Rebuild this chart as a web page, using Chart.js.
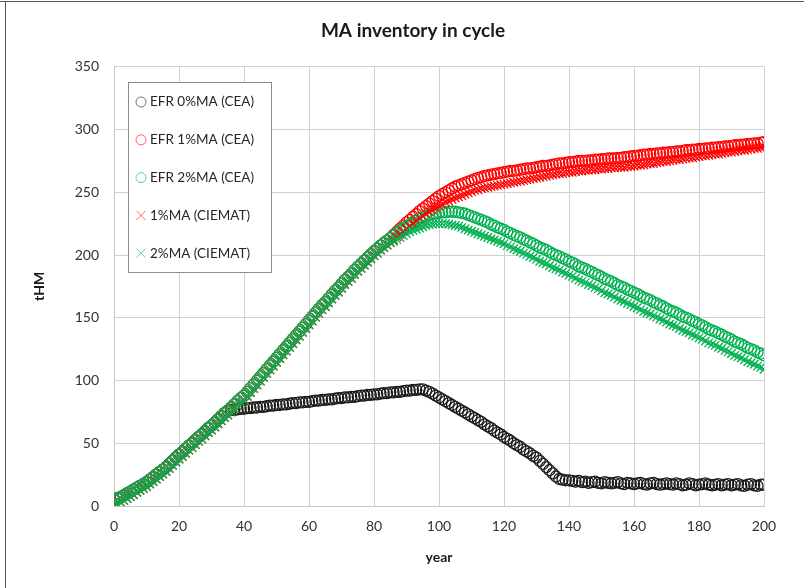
<!DOCTYPE html>
<html>
<head>
<meta charset="utf-8">
<script src="https://cdn.jsdelivr.net/npm/chart.js@4.4.0/dist/chart.umd.min.js"></script>
<style>
  body { margin: 0; background: #fff; }
  #wrap { position: relative; width: 804px; height: 588px; }
</style>
</head>
<body>
<div id="wrap"><canvas id="myChart" width="804" height="588"></canvas></div>
<script>
// years 0..200, one marker per year
const years = Array.from({ length: 201 }, (_, i) => i);
const xTicks = [0, 20, 40, 60, 80, 100, 120, 140, 160, 180, 200];
const yTicks = [0, 50, 100, 150, 200, 250, 300, 350];
const seriesNames = ['EFR 0%MA (CEA)', 'EFR 1%MA (CEA)', 'EFR 2%MA (CEA)', '1%MA (CIEMAT)', '2%MA (CIEMAT)'];

// common ramp-up of the CEA runs, years 0..85
const riseCEA = [
  5, 6, 7, 8.5, 10, 11.5, 13, 14.5, 16, 17.5,
  19, 21, 23, 25, 27, 29, 31, 33.5, 36, 38.5,
  41, 43, 45.5, 48, 50, 52.5, 55, 57, 59.5, 62,
  64, 66.5, 69, 71.5, 74, 76, 78.5, 81, 83.5, 86,
  88, 91, 94, 97, 100, 103, 106, 109, 112, 115,
  118, 121, 124, 127, 130, 133, 136, 139, 142, 145,
  148, 151, 154, 157, 160, 162.5, 165.5, 168.5, 171.5, 174,
  177, 180, 182.5, 185, 188, 190.5, 193, 195.5, 198, 200.5,
  203, 205, 207.5, 209.5, 211.5, 213.5
];
// common ramp-up of the CIEMAT runs, years 0..85
const riseCIEMAT = [
  0, 1.5, 3, 4.5, 6, 7.5, 9, 11, 12.5, 14,
  15.5, 17.5, 19.5, 21.5, 23.5, 25.5, 27.5, 30, 32.5, 35,
  37.5, 39.5, 42, 44.5, 46.5, 49, 51.5, 53.5, 56, 58.5,
  60.5, 63, 65.5, 68, 70.5, 72.5, 75, 77.5, 80, 82.5,
  84.5, 87.5, 90.5, 93.5, 96.5, 99.5, 102.5, 105.5, 108.5, 111.5,
  114.5, 117.5, 120.5, 123.5, 126.5, 129.5, 132.5, 135.5, 138.5, 141.5,
  144.5, 147.5, 150.5, 153.5, 156.5, 159, 162, 165, 168, 170.5,
  173.5, 176.5, 179, 181.5, 184.5, 187, 189.5, 192, 194.5, 197,
  199.5, 201.5, 204, 206, 208, 210
];
// EFR 0%MA, years 36..200
const efr0Tail = [
  76.5, 76.5, 77, 77.5, 77.5, 78, 78, 78.5, 78.5, 79,
  79, 79.5, 80, 80, 80.5, 80.5, 81, 81, 81.5, 82,
  82, 82.5, 82.5, 83, 83, 83.5, 84, 84, 84.5, 84.5,
  85, 85, 85.5, 86, 86, 86.5, 86.5, 87, 87, 87.5,
  88, 88, 88.5, 88.5, 89, 89, 89.5, 90, 90, 90.5,
  90.5, 91, 91, 91.5, 92, 92, 92.5, 92.5, 93, 93,
  92, 91, 89.5, 88, 86.5, 85, 83.5, 82, 80.5, 79,
  77.5, 76, 74.5, 73, 71.5, 70, 68.5, 67, 65, 63.5,
  62, 60, 58.5, 57, 55, 53.5, 52, 50, 48.5, 47,
  45, 43.5, 42, 40, 38.5, 36, 33.5, 31, 28.5, 26,
  23.5, 21.5, 21, 20.5, 20.5,
  20, 19.5, 20, 19, 19.5, 18.5, 19, 19.5, 18.5, 18,
  19, 18.5, 18, 18.5, 19, 18, 17.5, 18.5, 18, 17.5,
  18, 18.5, 17.5, 17, 18, 18.5, 17.5, 17, 17.5, 18,
  17.5, 17, 18, 17.5, 16.5, 17, 18, 17.5, 16.5, 17,
  17.5, 18, 17, 16.5, 17, 17.5, 16.5, 17, 17.5, 16.5,
  17, 17.5, 16.5, 16, 17, 17.5, 16.5, 16, 17, 17
];
// EFR 1%MA, years 86..200
const efr1Tail = [
  216, 218.5, 221, 223.5, 226, 228, 230.5, 232.5, 235, 237,
  239, 241, 243, 245, 247, 248.5, 250, 251.5, 253, 254.5,
  255.5, 256.5, 257.5, 258.5, 259.5, 260.5, 261.5, 262, 263, 263.5,
  264, 264.5, 265, 265.5, 266,
  266.5, 267, 267, 267.5, 268, 268.5, 269, 269, 269.5, 270,
  270.5, 271, 271, 271.5, 272, 272.5, 273, 273, 273.5, 274,
  274, 274.5, 275, 275, 275, 275.5, 275.5, 276, 276, 276.5,
  276.5, 277, 277, 277, 277.5, 277.5, 278, 278, 278.5, 279,
  279, 279.5, 280, 280, 280.5, 280.5, 281, 281, 281.5, 281.5,
  282, 282, 282.5, 282.5, 283, 283.5, 283.5, 284, 284, 284.5,
  284.5, 285, 285, 285.5, 285.5, 286, 286, 286.5, 286.5, 287,
  287.5, 287.5, 288, 288, 288.5, 288.5, 289, 289, 289.5, 290
];
// EFR 2%MA, years 86..200
const efr2Tail = [
  215.5, 217.5, 219.5, 221, 223, 224.5, 226, 227.5, 229, 230,
  231, 232, 232.5, 233, 233.5, 234, 234, 234.5, 234.5, 234.5,
  234, 233.5, 233, 232, 231, 230, 229, 228, 227, 226,
  224.5, 223.5, 222, 221, 220,
  218.5, 217.5, 216, 215, 214, 212.5, 211.5, 210, 209, 207.5,
  206, 205, 204, 202.5, 201, 200, 199, 197.5, 196.5, 195,
  194, 192.5, 191, 190, 189, 187.5, 186.5, 185, 184, 182.5,
  181, 180, 179, 177.5, 176, 175, 174, 172.5, 171.5, 170,
  169, 167.5, 166, 165, 164, 162.5, 161.5, 160, 159, 157.5,
  156, 155, 154, 152.5, 151, 150, 149, 147.5, 146.5, 145,
  144, 142.5, 141, 140, 139, 137.5, 136.5, 135, 134, 132.5,
  131, 130, 129, 127.5, 126, 125, 124, 122.5, 121.5, 120
];
// 1%MA CIEMAT, years 86..200
const ciemat1Tail = [
  212, 214.5, 216.5, 219, 221, 223, 225, 227, 229, 231,
  233, 234.5, 236, 237.5, 239, 240.5, 242, 243, 244.5, 245.5,
  246.5, 247.5, 248.5, 249.5, 250.5, 251.5, 252, 253, 253.5, 254,
  254.5, 255, 255.5, 256, 256.5,
  257, 257.5, 258, 258.5, 259, 259.5, 260, 260.5, 261, 261.5,
  262, 262.5, 263, 263.5, 264, 264.5, 265, 265, 265.5, 266,
  266, 266.5, 267, 267, 267.5, 267.5, 268, 268, 268.5, 268.5,
  269, 269, 269.5, 269.5, 270, 270, 270, 270.5, 270.5, 271,
  271.5, 271.5, 272, 272.5, 273, 273, 273.5, 274, 274.5, 274.5,
  275, 275.5, 276, 276, 276.5, 277, 277.5, 277.5, 278, 278.5,
  279, 279, 279.5, 280, 280.5, 280.5, 281, 281.5, 282, 282,
  282.5, 283, 283.5, 283.5, 284, 284.5, 285, 285, 285.5, 286
];
// 2%MA CIEMAT, years 86..200
const ciemat2Tail = [
  211, 212.5, 214, 215.5, 217, 218.5, 219.5, 220.5, 221.5, 222.5,
  223.5, 224, 224.5, 225, 225, 225, 225, 224.5, 224, 223.5,
  223, 222, 221, 220, 219, 218, 217, 216, 215, 214,
  213, 212, 211, 210, 209,
  207.5, 206.5, 205, 204, 203, 201.5, 200.5, 199, 198, 196.5,
  195, 194, 193, 191.5, 190, 189, 188, 186.5, 185.5, 184,
  183, 181.5, 180, 179, 178, 176.5, 175.5, 174, 173, 171.5,
  170, 169, 168, 166.5, 165, 164, 163, 161.5, 160.5, 159,
  158, 156.5, 155, 154, 153, 151.5, 150.5, 149, 148, 146.5,
  145, 144, 143, 141.5, 140, 139, 138, 136.5, 135.5, 134,
  133, 131.5, 130, 129, 128, 126.5, 125.5, 124, 123, 121.5,
  120, 119, 118, 116.5, 115, 114, 113, 111.5, 110.5, 109
];

const efr0 = riseCEA.slice(0, 36).concat(efr0Tail);
const efr1 = riseCEA.concat(efr1Tail);
const efr2 = riseCEA.concat(efr2Tail);
const ciemat1 = riseCIEMAT.concat(ciemat1Tail);
const ciemat2 = riseCIEMAT.concat(ciemat2Tail);

const toPoints = ys => ys.map((y, i) => ({ x: years[i], y: y }));

const RED = '#ff0000';
const GREEN = '#00b050';
const BLACK = '#1a1a1a';

function ds(name, ys, color, style, radius, order) {
  return {
    label: name,
    data: toPoints(ys),
    borderColor: color,
    backgroundColor: 'rgba(0,0,0,0)',
    pointStyle: style,
    pointRadius: radius,
    pointBorderWidth: 1.3,
    pointHoverRadius: radius,
    showLine: false,
    order: order
  };
}

// legend box drawn inside the plot area, top left + outer frame
const insideLegend = {
  id: 'insideLegend',
  afterLayout(chart) {
    // the title sits a bit right of centre in the original
    if (chart.titleBlock) {
      chart.titleBlock.left = 62;
      chart.titleBlock.right = 764;
    }
  },
  beforeDraw(chart) {
    const ctx = chart.ctx;
    ctx.save();
    ctx.fillStyle = '#fff';
    ctx.fillRect(0, 0, chart.width, chart.height);
    ctx.strokeStyle = '#555';
    ctx.lineWidth = 1;
    ctx.beginPath();
    ctx.moveTo(5.5, chart.height);
    ctx.lineTo(5.5, 1.5);
    ctx.lineTo(chart.width, 1.5);
    ctx.moveTo(0, 1.5);
    ctx.lineTo(5.5, 1.5);
    ctx.stroke();
    ctx.restore();
  },
  afterDraw(chart) {
    const ctx = chart.ctx;
    ctx.save();
    ctx.fillStyle = '#fff';
    ctx.fillRect(128, 82, 143, 190);
    ctx.strokeStyle = '#8c8c8c';
    ctx.lineWidth = 1;
    ctx.strokeRect(128.5, 82.5, 143, 190);
    chart.data.datasets.forEach((d, i) => {
      const y = 102 + i * 37.8;
      const x = 141;
      ctx.strokeStyle = d.borderColor;
      ctx.globalAlpha = 0.6;
      ctx.beginPath();
      if (d.pointStyle === 'circle') {
        ctx.arc(x, y, 5, 0, Math.PI * 2);
      } else {
        ctx.moveTo(x - 4.5, y - 4.5); ctx.lineTo(x + 4.5, y + 4.5);
        ctx.moveTo(x - 4.5, y + 4.5); ctx.lineTo(x + 4.5, y - 4.5);
      }
      ctx.stroke();
      ctx.globalAlpha = 1;
      ctx.fillStyle = '#262626';
      ctx.font = '13.5px Lato';
      ctx.textBaseline = 'middle';
      ctx.textAlign = 'left';
      ctx.fillText(d.label, 150, y);
    });
    ctx.restore();
  }
};

Chart.defaults.font.family = 'Lato';
Chart.defaults.color = '#333';

const ctx = document.getElementById('myChart');
new Chart(ctx, {
  type: 'scatter',
  data: {
    datasets: [
      ds(seriesNames[0], efr0, BLACK, 'circle', 5.5, 5),
      ds(seriesNames[1], efr1, RED, 'circle', 5.5, 4),
      ds(seriesNames[2], efr2, GREEN, 'circle', 5.5, 3),
      ds(seriesNames[3], ciemat1, RED, 'crossRot', 6, 2),
      ds(seriesNames[4], ciemat2, GREEN, 'crossRot', 6, 1)
    ]
  },
  options: {
    responsive: false,
    animation: false,
    events: [],
    layout: { padding: { left: 0, right: 40, top: 0, bottom: 0 } },
    plugins: {
      legend: { display: false },
      tooltip: { enabled: false },
      title: {
        display: true,
        text: 'MA inventory in cycle',
        color: '#1a1a1a',
        font: { size: 19, weight: 'bold', family: 'Lato' },
        padding: { top: 19, bottom: 25 }
      }
    },
    scales: {
      x: {
        type: 'linear',
        min: 0,
        max: 200,
        afterBuildTicks: s => { s.ticks = xTicks.map(v => ({ value: v })); },
        afterFit: s => { s.height = 82; },
        grid: { color: '#d0d0d0', drawTicks: false },
        border: { color: '#c8c8c8' },
        ticks: { padding: 12, font: { size: 14 }, color: '#333' },
        title: {
          display: true,
          text: 'year',
          color: '#1a1a1a',
          font: { size: 14, weight: 'bold' },
          padding: { top: 0, bottom: 22 }
        }
      },
      y: {
        min: 0,
        max: 350,
        afterBuildTicks: s => { s.ticks = yTicks.map(v => ({ value: v })); },
        afterFit: s => { s.width = 114; },
        grid: { color: '#d0d0d0', drawTicks: false },
        border: { color: '#c8c8c8' },
        ticks: { padding: 15, font: { size: 14 }, color: '#333' },
        title: {
          display: true,
          text: 'tHM',
          color: '#1a1a1a',
          font: { size: 14, weight: 'bold' },
          padding: { top: 31, bottom: 0 }
        }
      }
    }
  },
  plugins: [insideLegend]
});
</script>
</body>
</html>
